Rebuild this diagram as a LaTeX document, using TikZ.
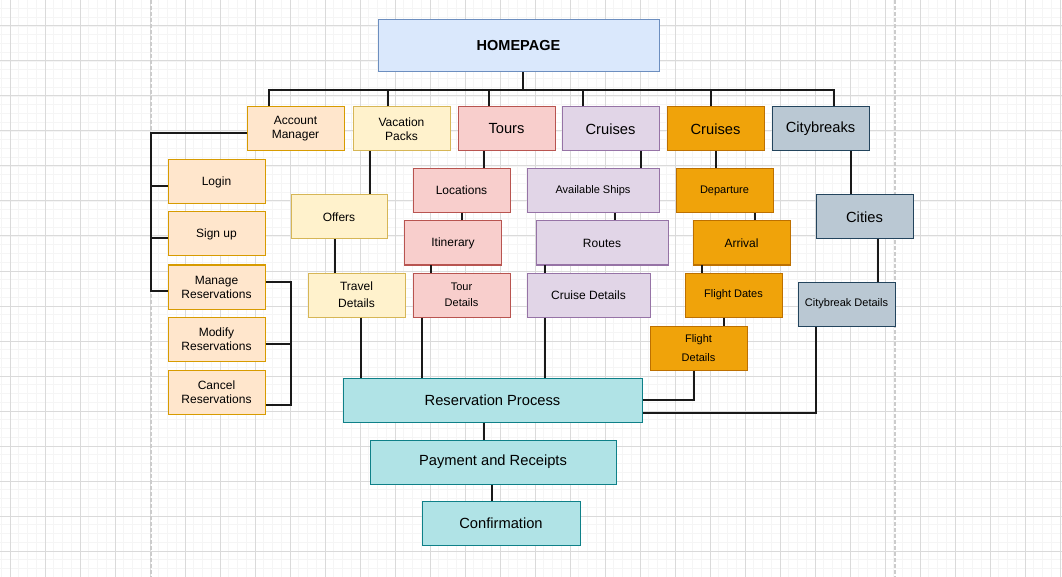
\documentclass[tikz,border=0pt]{standalone}
\usepackage{fontspec}
\setmainfont{Liberation Sans}
\usepackage{tikz}

\definecolor{homefill}{HTML}{DAE8FC}
\definecolor{homeline}{HTML}{6C8EBF}
\definecolor{peachfill}{HTML}{FFE6CC}
\definecolor{peachline}{HTML}{D79B00}
\definecolor{yellowfill}{HTML}{FFF2CC}
\definecolor{yellowline}{HTML}{D6B656}
\definecolor{redfill}{HTML}{F8CECC}
\definecolor{redline}{HTML}{B85450}
\definecolor{purplefill}{HTML}{E1D5E7}
\definecolor{purpleline}{HTML}{9673A6}
\definecolor{orangefill}{HTML}{F0A30A}
\definecolor{orangeline}{HTML}{BD7000}
\definecolor{greyfill}{HTML}{BAC8D3}
\definecolor{greyline}{HTML}{23445D}
\definecolor{tealfill}{HTML}{B0E3E6}
\definecolor{tealline}{HTML}{0E8088}
\definecolor{minorgrid}{HTML}{F5F5F5}
\definecolor{majorgrid}{HTML}{DADADA}
\definecolor{pageline}{HTML}{CCCCCC}

\begin{document}
\begin{tikzpicture}[x=1pt, y=-1pt,
  box/.style={draw, line width=1pt, minimum width=97pt, minimum height=44pt, inner sep=0pt, align=center, text=black, font=\fontsize{12}{14}\selectfont},
  big/.style={font=\fontsize{14.7}{17}\selectfont},
  small/.style={font=\fontsize{11}{16}\selectfont},
  homebox/.style={box, fill=homefill, draw=homeline, minimum width=281pt, minimum height=52pt, font=\fontsize{14.5}{17}\selectfont\bfseries},
  peachbox/.style={box, fill=peachfill, draw=peachline},
  yellowbox/.style={box, fill=yellowfill, draw=yellowline},
  redbox/.style={box, fill=redfill, draw=redline},
  purplebox/.style={box, fill=purplefill, draw=purpleline},
  orangebox/.style={box, fill=orangefill, draw=orangeline},
  greybox/.style={box, fill=greyfill, draw=greyline},
  tealbox/.style={box, fill=tealfill, draw=tealline},
  link/.style={line width=2pt, draw=black!90}]
\useasboundingbox (0,0) rectangle (1062,577);
\fill[white] (0,0) rectangle (1062,577);
% background grid
\foreach \k in {0,...,121} \draw[minorgrid, line width=0.8pt] ({1.25+8.75*\k},0) -- ({1.25+8.75*\k},577);
\foreach \k in {-2,...,63} \draw[minorgrid, line width=0.8pt] (0,{26+8.75*\k}) -- (1062,{26+8.75*\k});
\foreach \k in {0,...,30} \draw[majorgrid, line width=1pt] ({10+35*\k},0) -- ({10+35*\k},577);
\foreach \k in {0,...,15} \draw[majorgrid, line width=1pt] (0,{26+35*\k}) -- (1062,{26+35*\k});
\draw[pageline, line width=1.3pt, dash pattern=on 4pt off 2pt] (151,0) -- (151,577);
\draw[pageline, line width=1.3pt, dash pattern=on 4pt off 2pt] (895,0) -- (895,577);

% boxes
\node[homebox] (home) at (518.5,46) {HOMEPAGE};
\node[peachbox] (account) at (295.5,129) {Account\\Manager};
\node[yellowbox] (vacation) at (401.5,129) {Vacation\\Packs};
\node[redbox, big] (tours) at (506.5,129) {Tours};
\node[purplebox, big] (cruises) at (610.5,129) {Cruises};
\node[orangebox, big] (flights) at (715.5,129) {Cruises};
\node[greybox, big] (citybreaks) at (820.5,129) {Citybreaks};

\node[peachbox] (login) at (216.5,182) {Login};
\node[peachbox] (signup) at (216.5,234) {Sign up};
\node[peachbox] (manage) at (216.5,287) {Manage\\Reservations};
\node[peachbox] (modify) at (216.5,339) {Modify\\Reservations};
\node[peachbox] (cancel) at (216.5,392) {Cancel\\Reservations};

\node[yellowbox, minimum width=96pt] (offers) at (339,217) {Offers};
\node[yellowbox, font=\fontsize{12}{17}\selectfont] (travel) at (356.5,295) {Travel\\Details};

\node[redbox] (locations) at (461.5,190.5) {Locations};
\node[redbox] (itinerary) at (453,243) {Itinerary};
\node[redbox, small] (tourdetails) at (461.5,295) {Tour\\Details};

\node[purplebox, small, minimum width=132pt] (ships) at (593,190.5) {Available Ships};
\node[purplebox, minimum width=132pt] (routes) at (602,243) {Routes};
\node[purplebox, minimum width=123pt] (cruisedetails) at (588.5,295) {Cruise Details};

\node[orangebox, small] (departure) at (724.5,190.5) {Departure};
\node[orangebox] (arrival) at (741.5,243) {Arrival};
\node[orangebox, small] (flightdates) at (733.5,295) {Flight Dates};
\node[orangebox, font=\fontsize{11}{19}\selectfont] (flightdetails) at (698.5,348) {Flight\\Details};

\node[greybox, big] (cities) at (864.5,217) {Cities};
\node[greybox, small] (citydetails) at (846.5,304) {Citybreak Details};

\node[tealbox, big, minimum width=299pt] (reservation) at (492.5,400) {Reservation Process};
\node[tealbox, big, minimum width=246pt] (payment) at (493,462) {Payment and Receipts};
\node[tealbox, big, minimum width=158pt] (confirmation) at (501,523) {Confirmation};

% top bus
\coordinate (bus) at (523,90);
\draw[link] ([xshift=4.5pt]home.south) -- (bus);
\draw[link] ([xshift=-26.5pt]account.north) |- (bus) -| ([xshift=13.5pt]citybreaks.north);
\draw[link] ([xshift=-13.5pt]vacation.north) -- ([xshift=-13.5pt]vacation.north |- bus);
\draw[link] ([xshift=-17.5pt]tours.north) -- ([xshift=-17.5pt]tours.north |- bus);
\draw[link] ([xshift=-27.5pt]cruises.north) -- ([xshift=-27.5pt]cruises.north |- bus);
\draw[link] ([xshift=-4.5pt]flights.north) -- ([xshift=-4.5pt]flights.north |- bus);

% account manager
\coordinate (amtrunk) at (151,238);
\draw[link] ([yshift=-4pt]account.west) -| (amtrunk) |- ([yshift=-4pt]manage.west);
\draw[link] ([yshift=-4pt]login.west) -| (amtrunk);
\draw[link] ([yshift=-4pt]signup.west) -- (amtrunk);
\coordinate (mgtrunk) at (291,344);
\draw[link] ([yshift=5pt]manage.east) -| (mgtrunk) |- ([yshift=-13pt]cancel.east);
\draw[link] ([yshift=-5pt]modify.east) -- (mgtrunk);

% vacation packs
\draw[link] ([xshift=-31.5pt]vacation.south) -- ([xshift=-31.5pt]vacation.south |- offers.north);
\draw[link] ([xshift=-4pt]offers.south) -- ([xshift=-4pt]offers.south |- travel.north);
\draw[link] ([xshift=4.5pt]travel.south) -- ([xshift=4.5pt]travel.south |- reservation.north);

% tours
\draw[link] ([xshift=-22.5pt]tours.south) -- ([xshift=-22.5pt]tours.south |- locations.north);
\draw[link] (locations.south) -- (locations.south |- itinerary.north);
\draw[link] ([xshift=-22pt]itinerary.south) -- ([xshift=-22pt]itinerary.south |- tourdetails.north);
\draw[link] ([xshift=-39.5pt]tourdetails.south) -- ([xshift=-39.5pt]tourdetails.south |- reservation.north);

% cruises
\draw[link] ([xshift=30.5pt]cruises.south) -- ([xshift=30.5pt]cruises.south |- ships.north);
\draw[link] ([xshift=22pt]ships.south) -- ([xshift=22pt]ships.south |- routes.north);
\draw[link] ([xshift=-57pt]routes.south) -- ([xshift=-57pt]routes.south |- cruisedetails.north);
\draw[link] ([xshift=-43.5pt]cruisedetails.south) -- ([xshift=-43.5pt]cruisedetails.south |- reservation.north);

% flights
\draw[link] (flights.south) -- (flights.south |- departure.north);
\draw[link] ([xshift=30.5pt]departure.south) -- ([xshift=30.5pt]departure.south |- arrival.north);
\draw[link] ([xshift=-39.5pt]arrival.south) -- ([xshift=-39.5pt]arrival.south |- flightdates.north);
\draw[link] ([xshift=-9.5pt]flightdates.south) -- ([xshift=-9.5pt]flightdates.south |- flightdetails.north);
\draw[link] ([xshift=-4.5pt]flightdetails.south) |- (reservation.east);

% citybreaks
\draw[link] ([xshift=30.5pt]citybreaks.south) -- ([xshift=30.5pt]citybreaks.south |- cities.north);
\draw[link] ([xshift=13.5pt]cities.south) -- ([xshift=13.5pt]cities.south |- citydetails.north);
\draw[link] ([xshift=-30.5pt]citydetails.south) |- ([yshift=-13pt]reservation.east);

% checkout
\draw[link] ([xshift=-8.5pt]reservation.south) -- ([xshift=-8.5pt]reservation.south |- payment.north);
\draw[link] ([xshift=-1pt]payment.south) -- ([xshift=-1pt]payment.south |- confirmation.north);
\end{tikzpicture}
\end{document}
